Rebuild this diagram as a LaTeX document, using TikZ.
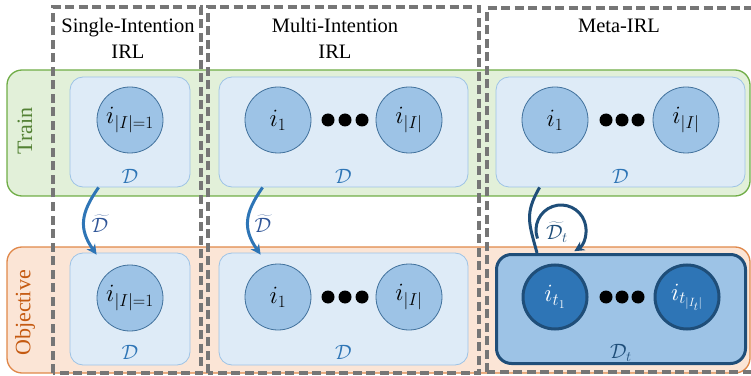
\documentclass[tikz,border=0pt]{standalone}
\usepackage{fontspec}
\setmainfont{Liberation Serif}
\usetikzlibrary{arrows.meta}
\definecolor{trainfill}{HTML}{E2F0D9}
\definecolor{trainline}{HTML}{70AD47}
\definecolor{traintext}{HTML}{548235}
\definecolor{objfill}{HTML}{FBE5D6}
\definecolor{objline}{HTML}{E0884A}
\definecolor{objtext}{HTML}{C55A11}
\definecolor{boxfill}{HTML}{DEEBF7}
\definecolor{boxline}{HTML}{9DC3E6}
\definecolor{circfill}{HTML}{9DC3E6}
\definecolor{circline}{HTML}{41719C}
\definecolor{midblue}{HTML}{2E75B6}
\definecolor{darkblue}{HTML}{1F4E79}
\definecolor{labblue}{HTML}{2F5597}
\definecolor{dashgray}{HTML}{767676}
\begin{document}
\begin{tikzpicture}[x=1pt,y=1pt,
  band/.style={rounded corners=15pt,line width=1.3pt},
  innerbox/.style={draw=boxline,fill=boxfill,line width=0.8pt,rounded corners=13pt,inner sep=0pt},
  darkbox/.style={draw=darkblue,fill=circfill,line width=3pt,rounded corners=15pt,inner sep=0pt},
  intent/.style={circle,draw=circline,fill=circfill,line width=0.8pt,minimum size=66pt,inner sep=0pt,font=\fontsize{26}{30}\selectfont},
  darkintent/.style={circle,draw=darkblue,fill=midblue,line width=3pt,minimum size=64pt,inner sep=0pt,text=white,font=\fontsize{26}{30}\selectfont},
  dlabel/.style={text=midblue,font=\fontsize{22}{26}\selectfont,inner sep=0pt},
  title/.style={anchor=base,font=\fontsize{20.5}{25}\selectfont,inner sep=0pt},
  side/.style={rotate=90,font=\fontsize{22}{26}\selectfont,inner sep=0pt},
  frame/.style={draw=dashgray,line width=3.3pt,dash pattern=on 9pt off 4.5pt},
  arrL/.style={draw=midblue,line width=3pt,-{Stealth[length=10pt,width=10pt]}},
  arrD/.style={draw=darkblue,line width=3pt},
  dot/.style={circle,fill=black,minimum size=13pt,inner sep=0pt}
]
\clip (0,0) rectangle (751,375);
% bands
\draw[band,fill=trainfill,draw=trainline] (7,179) rectangle (750,305);
\draw[band,fill=objfill,draw=objline] (7,2) rectangle (750,128);
\node[side,text=traintext] (trainlab) at (25,244) {Train};
\node[side,text=objtext] (objlab) at (25,62) {Objective};
% train row
\node[innerbox,minimum width=120pt,minimum height=110pt] (tA) at (130,243) {};
\node[innerbox,minimum width=249pt,minimum height=110pt] (tB) at (343.5,243) {};
\node[innerbox,minimum width=249pt,minimum height=110pt] (tC) at (620.5,243) {};
\node[intent] (tA1) at (130,255) {$i_{|I|=1}$};
\node[intent] (tB1) at (278,255) {$i_1$};
\node[intent] (tB2) at (409,255) {$i_{|I|}$};
\node[intent] (tC1) at (555,255) {$i_1$};
\node[intent] (tC2) at (686,255) {$i_{|I|}$};
\node[dot] (tBd1) at (328,255) {};
\node[dot] (tBd2) at (345,255) {};
\node[dot] (tBd3) at (362,255) {};
\node[dot] (tCd1) at (606,255) {};
\node[dot] (tCd2) at (622,255) {};
\node[dot] (tCd3) at (638,255) {};
\node[dlabel] (tAD) at (130,199) {$\mathcal{D}$};
\node[dlabel] (tBD) at (343.5,199) {$\mathcal{D}$};
\node[dlabel] (tCD) at (620.5,199) {$\mathcal{D}$};
% objective row
\node[innerbox,minimum width=120pt,minimum height=112pt] (oA) at (130,66) {};
\node[innerbox,minimum width=249pt,minimum height=112pt] (oB) at (343.5,66) {};
\node[darkbox,minimum width=249pt,minimum height=109pt] (oC) at (621,66) {};
\node[intent] (oA1) at (130,77) {$i_{|I|=1}$};
\node[intent] (oB1) at (278,78) {$i_1$};
\node[intent] (oB2) at (409,78) {$i_{|I|}$};
\node[darkintent] (oC1) at (555,78) {$i_{t_1}$};
\node[darkintent] (oC2) at (687,78) {$i_{t_{|I_t|}}$};
\node[dot] (oBd1) at (328,78) {};
\node[dot] (oBd2) at (345,78) {};
\node[dot] (oBd3) at (362,78) {};
\node[dot] (oCd1) at (606,78) {};
\node[dot] (oCd2) at (622,78) {};
\node[dot] (oCd3) at (638,78) {};
\node[dlabel] (oAD) at (130,23) {$\mathcal{D}$};
\node[dlabel] (oBD) at (343.5,23) {$\mathcal{D}$};
\node[dlabel,text=darkblue] (oCD) at (621,22) {$\mathcal{D}_t$};
% arrows
\draw[arrL] ([xshift=29pt]tA.south west) to[out=235,in=125,looseness=1.2] ([xshift=27pt,yshift=-2pt]oA.north west);
\draw[arrL] ([xshift=44pt]tB.south west) to[out=235,in=125,looseness=1.2] ([xshift=42pt,yshift=-2pt]oB.north west);
\node[dlabel,text=labblue] (arrA) at (100,151) {$\widetilde{\mathcal{D}}$};
\node[dlabel,text=labblue] (arrB) at (263,151) {$\widetilde{\mathcal{D}}$};
\draw[arrD] ([xshift=44pt]tC.south west) to[out=240,in=105,looseness=1.2] ([xshift=42pt]oC.north west);
\coordinate (lc) at (561,145);
\draw[arrD,-{Stealth[length=10pt,width=10pt]}] ([shift={(200:25pt)}]lc) arc[start angle=200,end angle=-58,radius=25pt];
\node[dlabel,text=darkblue] (arrC) at (557,143) {$\widetilde{\mathcal{D}}_t$};
% titles
\node[title] (ttA1) at (128,342) {Single-Intention};
\node[title] (ttA2) at (128,316) {IRL};
\node[title] (ttB1) at (335,342) {Multi-Intention};
\node[title] (ttB2) at (335,316) {IRL};
\node[title] (ttC1) at (619,342) {Meta-IRL};
% dashed frames
\draw[frame] (53,2) rectangle (201,368);
\draw[frame] (208,2) rectangle (479,368);
\draw[frame] (487,3) rectangle (775,367);
\end{tikzpicture}
\end{document}
